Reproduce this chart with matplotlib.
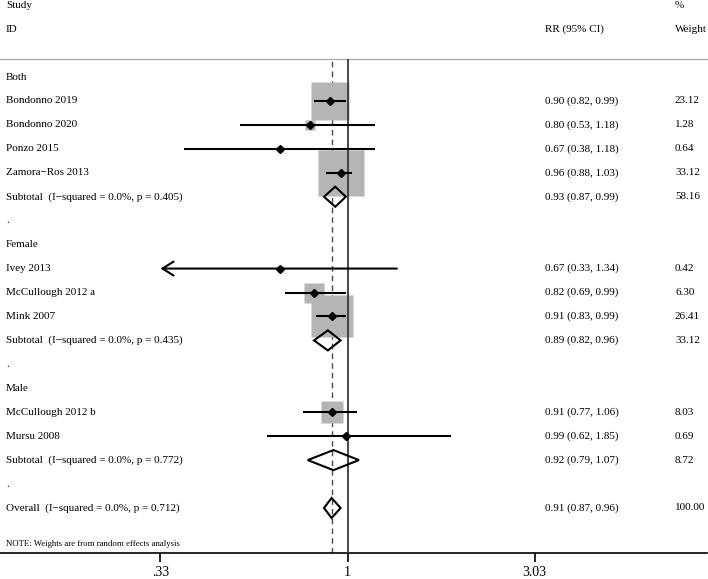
import numpy as np
import matplotlib
matplotlib.use("Agg")
import matplotlib.pyplot as plt
from matplotlib.transforms import blended_transform_factory

# rows of the forest plot, top to bottom
labels = ["Both", "Bondonno 2019", "Bondonno 2020", "Ponzo 2015", "Zamora\u2212Ros 2013",
          "Subtotal  (I\u2212squared = 0.0%, p = 0.405)", ".",
          "Female", "Ivey 2013", "McCullough 2012 a", "Mink 2007",
          "Subtotal  (I\u2212squared = 0.0%, p = 0.435)", ".",
          "Male", "McCullough 2012 b", "Mursu 2008",
          "Subtotal  (I\u2212squared = 0.0%, p = 0.772)", ".",
          "Overall  (I\u2212squared = 0.0%, p = 0.712)"]
kinds = ["head", "study", "study", "study", "study", "sub", "blank",
         "head", "study", "study", "study", "sub", "blank",
         "head", "study", "study", "sub", "blank", "sub"]
rr = [None, 0.90, 0.80, 0.67, 0.96, 0.93, None,
      None, 0.67, 0.82, 0.91, 0.89, None,
      None, 0.91, 0.99, 0.92, None, 0.91]
ci_lo = [None, 0.82, 0.53, 0.38, 0.88, 0.87, None,
         None, 0.33, 0.69, 0.83, 0.82, None,
         None, 0.77, 0.62, 0.79, None, 0.87]
ci_hi = [None, 0.99, 1.18, 1.18, 1.03, 0.99, None,
         None, 1.34, 0.99, 0.99, 0.96, None,
         None, 1.06, 1.85, 1.07, None, 0.96]
weights = [None, 23.12, 1.28, 0.64, 33.12, 58.16, None,
           None, 0.42, 6.30, 26.41, 33.12, None,
           None, 8.03, 0.69, 8.72, None, 100.00]

overall_rr = 0.91
tick_vals = [0.33, 1, 3.03]
tick_labels = [".33", "1", "3.03"]

serif = "Liberation Serif"
plt.rcParams["font.family"] = [serif, "DejaVu Serif"]

fig = plt.figure(figsize=(7.08, 5.79), dpi=100)
W, H = 708, 579
ax = fig.add_axes([0, (H - 553) / H, 707 / W, (553 - 59.3) / H])
ax.set_xscale("log")
ax.set_xlim(np.exp(-347.5 / 168.7), np.exp(359.5 / 168.7))
ax.set_ylim(19.88, -0.74)

for s in ["left", "right"]:
    ax.spines[s].set_visible(False)
ax.spines["top"].set_color("#a8a8a8")
ax.spines["top"].set_linewidth(0.9)
ax.spines["bottom"].set_linewidth(1.2)
ax.set_yticks([])
ax.set_xticks(tick_vals)
ax.set_xticklabels(tick_labels, fontsize=10)
ax.xaxis.set_minor_locator(matplotlib.ticker.NullLocator())
ax.tick_params(axis="x", direction="out", length=6.5, width=1.2, pad=2.5)

# reference lines
ax.axvline(1, color="#3a3a3a", lw=1.3, zorder=3)
ax.axvline(overall_rr, color="#4a4a4a", lw=1.0, ls=(0, (4, 3)), zorder=0.5)

h = 0.42
for r, k in enumerate(kinds):
    if k == "study":
        ax.plot(rr[r], r, marker="s", ms=5.78 * np.sqrt(weights[r]), color="#b5b5b5",
                mec="none", zorder=1)
        if ci_lo[r] <= tick_vals[0]:
            ax.annotate("", xy=(ci_lo[r], r), xytext=(ci_hi[r], r), zorder=4,
                        arrowprops=dict(arrowstyle="->,head_length=0.8,head_width=0.5",
                                        mutation_scale=10, lw=1.5, color="black",
                                        shrinkA=0, shrinkB=0))
        else:
            ax.plot([ci_lo[r], ci_hi[r]], [r, r], color="black", lw=1.5, zorder=4,
                    solid_capstyle="butt")
        ax.plot(rr[r], r, marker="D", ms=3.6, color="black", zorder=5)
    elif k == "sub":
        ax.fill([ci_lo[r], rr[r], ci_hi[r], rr[r]], [r, r - h, r, r + h],
                facecolor="none", edgecolor="black", lw=1.5, zorder=4)

# text columns
tr = blended_transform_factory(fig.transFigure, ax.transData)
x_lab, x_rr, x_w = 6 / W, 545 / W, 675 / W
fs = 8
ax.text(x_lab, -3, "Study", transform=tr, fontsize=fs, va="center", clip_on=False)
ax.text(x_lab, -2, "ID", transform=tr, fontsize=fs, va="center", clip_on=False)
ax.text(x_rr, -2, "RR (95% CI)", transform=tr, fontsize=fs, va="center", clip_on=False)
ax.text(x_w, -3, "%", transform=tr, fontsize=fs, va="center", clip_on=False)
ax.text(x_w, -2, "Weight", transform=tr, fontsize=fs, va="center", clip_on=False)

for r, lab in enumerate(labels):
    ax.text(x_lab, r, lab, transform=tr, fontsize=fs, va="center")
    if rr[r] is not None:
        ax.text(x_rr, r, f"{rr[r]:.2f} ({ci_lo[r]:.2f}, {ci_hi[r]:.2f})",
                transform=tr, fontsize=fs, va="center")
        ax.text(x_w, r, f"{weights[r]:.2f}", transform=tr, fontsize=fs, va="center")

ax.text(x_lab, 19.5, "NOTE: Weights are from random effects analysis", transform=tr,
        fontsize=6.3, va="center")

fig.savefig("out.png", dpi=100)
